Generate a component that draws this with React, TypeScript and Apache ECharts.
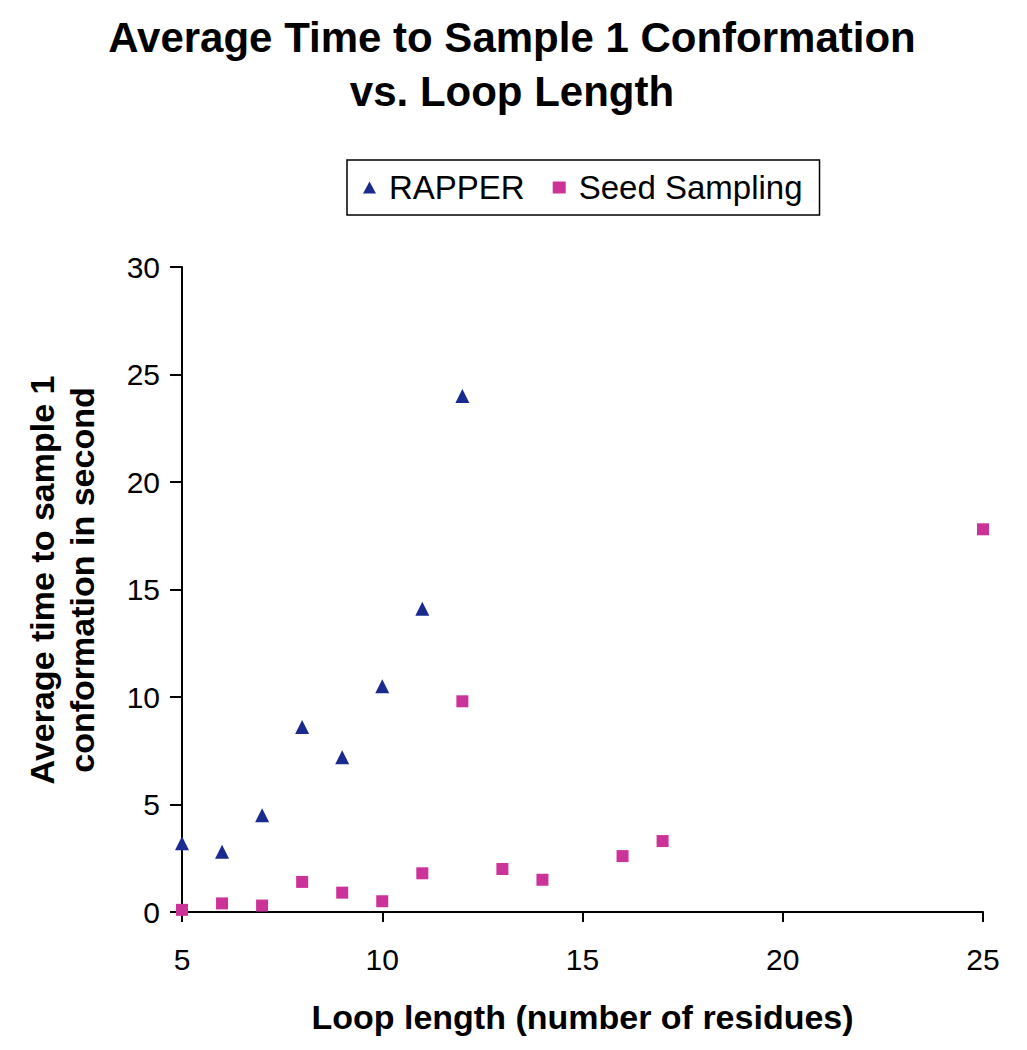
import React, { useEffect, useRef } from "react";
import * as echarts from "echarts";

const loopLengthRapper = [5, 6, 7, 8, 9, 10, 11, 12];
const rapperTimes = [3.2, 2.8, 4.5, 8.6, 7.2, 10.5, 14.1, 24.0];
const loopLengthSeed = [5, 6, 7, 8, 9, 10, 11, 12, 13, 14, 16, 17, 25];
const seedTimes = [0.1, 0.4, 0.3, 1.4, 0.9, 0.5, 1.8, 9.8, 2.0, 1.5, 2.6, 3.3, 17.8];
const seriesNames = ["RAPPER", "Seed Sampling"];

const FONT = "'Liberation Sans', Arial, sans-serif";

export default function App() {
  const ref = useRef<HTMLDivElement>(null);
  useEffect(() => {
    document.body.style.margin = "0";
    const chart = echarts.init(ref.current!, null, { renderer: "svg" });
    chart.setOption({
      animation: false,
      backgroundColor: "#ffffff",
      title: {
        text: "Average Time to Sample 1 Conformation\nvs. Loop Length",
        top: 5,
        left: 507,
        textAlign: "center",
        textStyle: {
          fontFamily: FONT,
          fontWeight: "bold",
          fontSize: 42,
          lineHeight: 54,
          color: "#000",
        },
      },
      legend: {
        left: 347,
        top: 160,
        padding: [11, 17, 11, 16],
        borderColor: "#000",
        borderWidth: 1.5,
        itemGap: 28,
        itemWidth: 13,
        itemHeight: 12,
        textStyle: { fontFamily: FONT, fontSize: 33, color: "#000", padding: [0, 0, 0, 8] },
        data: [
          { name: seriesNames[0], icon: "triangle" },
          { name: seriesNames[1], icon: "rect" },
        ],
      },
      grid: { left: 182, right: 44, top: 267, bottom: 138 },
      xAxis: {
        type: "value",
        min: 5,
        max: 25,
        interval: 5,
        name: "Loop length (number of residues)",
        nameLocation: "middle",
        nameGap: 88,
        nameTextStyle: { fontFamily: FONT, fontWeight: "bold", fontSize: 34, color: "#000" },
        axisLine: { lineStyle: { color: "#000", width: 2 } },
        axisTick: { show: true, inside: false, length: 10, lineStyle: { color: "#000", width: 2 } },
        axisLabel: { margin: 32, fontFamily: FONT, fontSize: 30, color: "#000" },
        splitLine: { show: false },
      },
      yAxis: {
        type: "value",
        min: 0,
        max: 30,
        interval: 5,
        axisLine: { show: true, lineStyle: { color: "#000", width: 2 } },
        axisTick: { show: true, inside: false, length: 12, lineStyle: { color: "#000", width: 2 } },
        axisLabel: { margin: 22, fontFamily: FONT, fontSize: 30, color: "#000" },
        splitLine: { show: false },
      },
      graphic: [
        {
          type: "text",
          x: 62,
          y: 580,
          rotation: Math.PI / 2,
          style: {
            text: "Average time to sample 1\nconformation in second",
            fontFamily: FONT,
            fontWeight: "bold",
            fontSize: 34,
            lineHeight: 40,
            fill: "#000",
            align: "center",
            verticalAlign: "middle",
          },
        },
      ],
      series: [
        {
          name: seriesNames[0],
          type: "scatter",
          symbol: "triangle",
          symbolSize: 14,
          itemStyle: { color: "#1B2A8E", opacity: 1 },
          data: loopLengthRapper.map((x, i) => [x, rapperTimes[i]]),
        },
        {
          name: seriesNames[1],
          type: "scatter",
          symbol: "rect",
          symbolSize: 12,
          itemStyle: { color: "#CC3399", opacity: 1 },
          data: loopLengthSeed.map((x, i) => [x, seedTimes[i]]),
        },
      ],
    });
    return () => chart.dispose();
  }, []);
  return <div ref={ref} style={{ width: 1027, height: 1050 }} />;
}
